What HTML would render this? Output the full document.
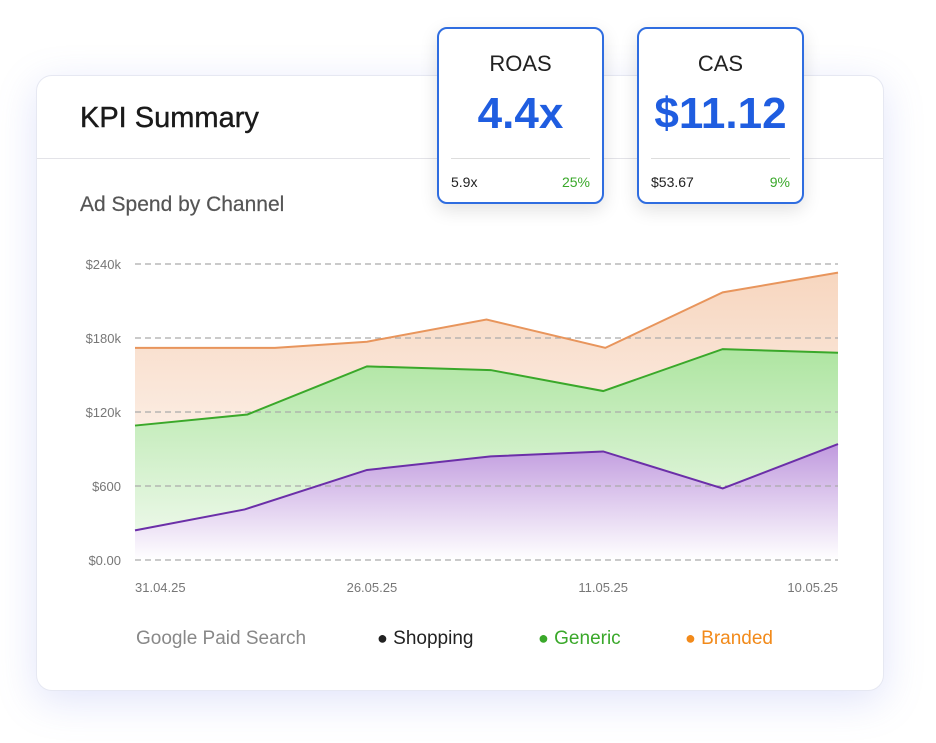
<!DOCTYPE html>
<html><head><meta charset="utf-8"><style>
body{margin:0;width:936px;height:743px;background:#fff;font-family:"Liberation Sans",sans-serif;position:relative;overflow:hidden}
.card{position:absolute;left:36px;top:75px;width:846px;height:614px;border-radius:16px;background:#fff;border:1px solid #e6e8f2;box-shadow:0 10px 40px rgba(120,130,230,0.22)}
.title{position:absolute;left:43px;top:26px;font-size:29px;color:#1a1a1a;-webkit-text-stroke:0.4px #1a1a1a}
.hr{position:absolute;left:0;right:0;top:82px;height:1px;background:#e3e3e8}
.sub{position:absolute;left:43px;top:117px;font-size:21px;color:#555;-webkit-text-stroke:0.2px #555}
.kpi{position:absolute;top:27px;width:163px;height:173px;border:2px solid #2f6de0;border-radius:10px;background:#fff;box-shadow:0 6px 18px rgba(0,0,0,0.12);text-align:center}
.kpi .l{margin-top:22px;font-size:22px;color:#222}
.kpi .v{margin-top:12px;font-size:44px;font-weight:bold;color:#1f5de0}
.kpi .d{position:absolute;left:12px;right:12px;top:129px;height:1px;background:#ddd}
.kpi .a{position:absolute;left:12px;top:145px;font-size:14px;color:#222}
.kpi .b{position:absolute;right:12px;top:145px;font-size:14px;color:#3aa82a}
.leg{position:absolute;top:628px;font-size:19px}
</style></head><body>
<div class="card">
<div class="title">KPI Summary</div>
<div class="hr"></div>
<div class="sub">Ad Spend by Channel</div>
</div>
<svg id="chart" width="936" height="743" style="position:absolute;left:0;top:0">
<defs>
<linearGradient id="go" x1="0" y1="0" x2="0" y2="1"><stop offset="0" stop-color="#f7d6bf"/><stop offset="1" stop-color="#fff"/></linearGradient>
<linearGradient id="gg" x1="0" y1="0" x2="0" y2="1"><stop offset="0" stop-color="#aee5a1"/><stop offset="1" stop-color="#f4fbf2"/></linearGradient>
<linearGradient id="gp" x1="0" y1="0" x2="0" y2="1"><stop offset="0" stop-color="#c09ade"/><stop offset="1" stop-color="#fff"/></linearGradient>
</defs>
</svg>
<div class="kpi" style="left:437px"><div class="l">ROAS</div><div class="v">4.4x</div><div class="d"></div><div class="a">5.9x</div><div class="b">25%</div></div>
<div class="kpi" style="left:637px"><div class="l">CAS</div><div class="v">$11.12</div><div class="d"></div><div class="a">$53.67</div><div class="b">9%</div></div>
<div class="leg" style="left:136px;color:#888">Google Paid Search</div>
<div class="leg" style="left:377px;color:#222"><span style="font-size:18px">●</span> Shopping</div>
<div class="leg" style="left:538px;color:#3aa82a"><span style="font-size:18px">●</span> Generic</div>
<div class="leg" style="left:685px;color:#f28a1a"><span style="font-size:18px">●</span> Branded</div>
<script>
const yTicks=[0,60,120,180,240];
const yTickLabels=["$0.00","$600","$120k","$180k","$240k"];
const xTickLabels=["31.04.25","26.05.25","11.05.25","10.05.25"];
const xTickPos=[0,33.7,66.6,100];
const brandedX=[0,19.9,33,50,66.9,83.6,100];
const brandedY=[172,172,177,195,172,217,233];
const genericX=[0,16,33,50.6,66.6,83.6,100];
const genericY=[109,118,157,154,137,171,168];
const shoppingX=[0,15.6,33,50.6,66.6,83.6,100];
const shoppingY=[24,41,73,84,88,58,94];
const svg=document.getElementById('chart');
const NS='http://www.w3.org/2000/svg';
const X=v=>135+v/100*703, Y=v=>560-v/240*296;
function mk(t,a){const e=document.createElementNS(NS,t);for(const k in a)e.setAttribute(k,a[k]);svg.appendChild(e);return e;}
function series(xs,ys,fill,stroke,name){
const pts=xs.map((x,i)=>X(x)+','+Y(ys[i])).join(' ');
const a=mk('polygon',{points:pts+' '+X(100)+','+Y(0)+' '+X(0)+','+Y(0),fill:fill});


return pts;
}
function line(pts,stroke,name){
const l=mk('polyline',{points:pts,fill:'none',stroke:stroke,'stroke-width':2});


}
const pb=series(brandedX,brandedY,'url(#go)','#e8955c','branded');
const pg=series(genericX,genericY,'url(#gg)','#3aa82a','generic');
const ps=series(shoppingX,shoppingY,'url(#gp)','#6b2fa8','shopping');
yTicks.forEach((t,i)=>{
const g=mk('line',{x1:135,x2:838,y1:Y(t),y2:Y(t),stroke:'#aaa','stroke-dasharray':'6 4','stroke-width':1.3});


const l=mk('text',{x:121,y:Y(t)+5,'text-anchor':'end','font-size':13,fill:'#777','font-family':'Liberation Sans'});
l.textContent=yTickLabels[i];


});
line(pb,'#e8955c','branded');
line(pg,'#3aa82a','generic');
line(ps,'#6b2fa8','shopping');
xTickLabels.forEach((t,i)=>{
const a=i==0?'start':i==xTickLabels.length-1?'end':'middle';
const l=mk('text',{x:X(xTickPos[i]),y:592,'text-anchor':a,'font-size':13,fill:'#777','font-family':'Liberation Sans'});
l.textContent=t;


});
</script>
</body></html>
